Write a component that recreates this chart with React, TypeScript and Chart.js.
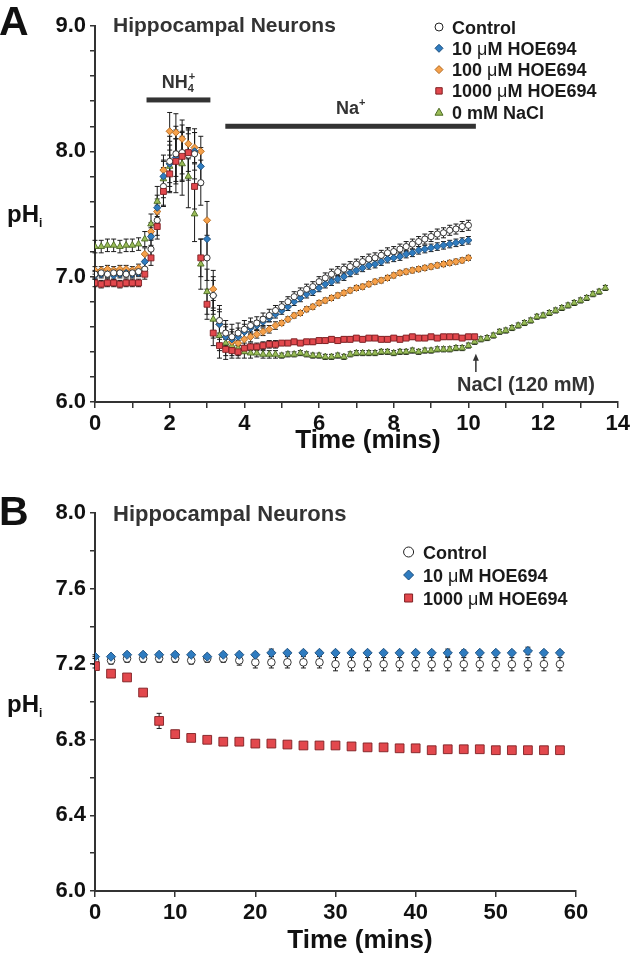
import React, { useEffect, useRef } from 'react';
import { Chart, registerables } from 'chart.js';

Chart.register(...registerables);

const FONT = '"Liberation Sans", Arial, Helvetica, sans-serif';
const bold = (px: number) => `bold ${px}px ${FONT}`;
const normal = (px: number) => `${px}px ${FONT}`;

// ---------------- Panel A data (time in seconds, pH values) ----------------
const A_TIME_SEC = [
  0, 10, 20, 30, 40, 50, 60, 70, 80, 90,
  100, 110, 120, 130, 140, 150, 160, 170, 180, 190,
  200, 210, 220, 230, 240, 250, 260, 270, 280, 290,
  300, 310, 320, 330, 340, 350, 360, 370, 380, 390,
  400, 410, 420, 430, 440, 450, 460, 470, 480, 490,
  500, 510, 520, 530, 540, 550, 560, 570, 580, 590,
  600, 610, 620, 630, 640, 650, 660, 670, 680, 690,
  700, 710, 720, 730, 740, 750, 760, 770, 780, 790,
  800, 810, 820,
];

const A_CONTROL = [
  7.02, 7.03, 7.02, 7.03, 7.03, 7.02, 7.03, 7.04, 7.06, 7.22,
  7.45, 7.72, 7.92, 7.98, 7.99, 7.97, 7.98, 7.75, 7.15, 6.85,
  6.65, 6.55, 6.52, 6.55, 6.58, 6.61, 6.63, 6.66, 6.69, 6.73,
  6.76, 6.80, 6.84, 6.87, 6.90, 6.92, 6.96, 6.99, 7.02, 7.04,
  7.06, 7.08, 7.10, 7.12, 7.14, 7.15, 7.17, 7.19, 7.20, 7.22,
  7.24, 7.26, 7.28, 7.30, 7.32, 7.34, 7.35, 7.37, 7.38, 7.40,
  7.41,
];
const A_CONTROL_ERR = [
  0.03, 0.03, 0.03, 0.03, 0.03, 0.03, 0.03, 0.03, 0.05, 0.08,
  0.12, 0.15, 0.20, 0.22, 0.22, 0.20, 0.20, 0.18, 0.18, 0.15,
  0.12, 0.10, 0.10, 0.08, 0.07, 0.06, 0.05, 0.05, 0.05, 0.04,
  0.04, 0.04, 0.04, 0.04, 0.04, 0.04, 0.04, 0.04, 0.04, 0.04,
  0.04, 0.04, 0.04, 0.04, 0.04, 0.04, 0.04, 0.04, 0.04, 0.04,
  0.04, 0.04, 0.04, 0.04, 0.04, 0.04, 0.04, 0.04, 0.04, 0.04,
  0.04,
];

const A_HOE10 = [
  7.01, 7.02, 7.02, 7.01, 7.02, 7.03, 7.02, 7.03, 7.12, 7.32,
  7.55, 7.80, 7.90, 7.95, 7.97, 7.99, 8.00, 7.88, 7.30, 6.85,
  6.62, 6.52, 6.50, 6.52, 6.56, 6.59, 6.61, 6.64, 6.67, 6.70,
  6.73, 6.76, 6.80, 6.83, 6.86, 6.88, 6.91, 6.94, 6.96, 6.98,
  7.00, 7.03, 7.05, 7.07, 7.09, 7.10, 7.12, 7.14, 7.15, 7.16,
  7.18, 7.19, 7.21, 7.22, 7.23, 7.24, 7.25, 7.26, 7.27, 7.28,
  7.29,
];
const A_HOE10_ERR = [
  0.03, 0.03, 0.03, 0.03, 0.03, 0.03, 0.03, 0.03, 0.05, 0.07,
  0.10, 0.12, 0.15, 0.15, 0.15, 0.15, 0.15, 0.15, 0.15, 0.12,
  0.10, 0.08, 0.08, 0.07, 0.06, 0.05, 0.04, 0.04, 0.03, 0.03,
  0.03, 0.03, 0.03, 0.03, 0.03, 0.03, 0.03, 0.03, 0.03, 0.03,
  0.03, 0.03, 0.03, 0.03, 0.03, 0.03, 0.03, 0.03, 0.03, 0.03,
  0.03, 0.03, 0.03, 0.03, 0.03, 0.03, 0.03, 0.03, 0.03, 0.03,
  0.03,
];

const A_HOE100 = [
  7.05, 7.05, 7.06, 7.05, 7.06, 7.06, 7.05, 7.07, 7.18, 7.36,
  7.52, 7.85, 8.16, 8.15, 8.10, 8.06, 8.03, 8.00, 7.45, 6.90,
  6.62, 6.52, 6.48, 6.47, 6.50, 6.52, 6.54, 6.56, 6.58, 6.61,
  6.63, 6.66, 6.69, 6.71, 6.74, 6.76, 6.79, 6.81, 6.83, 6.85,
  6.87, 6.89, 6.91, 6.92, 6.94, 6.96, 6.97, 6.99, 7.01, 7.03,
  7.04, 7.05, 7.06, 7.07, 7.08, 7.09, 7.10, 7.11, 7.12, 7.13,
  7.15,
];
const A_HOE100_ERR = [
  0.03, 0.03, 0.03, 0.03, 0.03, 0.03, 0.03, 0.03, 0.05, 0.07,
  0.10, 0.12, 0.15, 0.15, 0.15, 0.12, 0.12, 0.12, 0.15, 0.15,
  0.12, 0.10, 0.08, 0.06, 0.05, 0.04, 0.03, 0.03, 0.03, 0.03,
  0.02, 0.02, 0.02, 0.02, 0.02, 0.02, 0.02, 0.02, 0.02, 0.02,
  0.02, 0.02, 0.02, 0.02, 0.02, 0.02, 0.02, 0.02, 0.02, 0.02,
  0.02, 0.02, 0.02, 0.02, 0.02, 0.02, 0.02, 0.02, 0.02, 0.02,
  0.02,
];

const A_HOE1000 = [
  6.95, 6.94, 6.95, 6.95, 6.94, 6.95, 6.95, 6.95, 7.02, 7.15,
  7.40, 7.68, 7.82, 7.92, 7.96, 7.99, 7.72, 7.15, 6.78, 6.55,
  6.45, 6.42, 6.41, 6.40, 6.43, 6.44, 6.44, 6.45, 6.46, 6.46,
  6.47, 6.47, 6.48, 6.47, 6.48, 6.48, 6.49, 6.49, 6.50, 6.49,
  6.50, 6.50, 6.51, 6.50, 6.51, 6.51, 6.50, 6.50, 6.51, 6.50,
  6.51, 6.52, 6.51, 6.51, 6.52, 6.51, 6.52, 6.52, 6.52, 6.51,
  6.52, 6.52,
];
const A_HOE1000_ERR = [
  0.03, 0.03, 0.03, 0.03, 0.03, 0.03, 0.03, 0.03, 0.04, 0.06,
  0.10, 0.12, 0.15, 0.18, 0.20, 0.20, 0.18, 0.15, 0.12, 0.10,
  0.10, 0.08, 0.06, 0.05, 0.04, 0.03, 0.03, 0.03, 0.03, 0.03,
  0.02, 0.02, 0.02, 0.02, 0.02, 0.02, 0.02, 0.02, 0.02, 0.02,
  0.02, 0.02, 0.02, 0.02, 0.02, 0.02, 0.02, 0.02, 0.02, 0.02,
  0.02, 0.02, 0.02, 0.02, 0.02, 0.02, 0.02, 0.02, 0.02, 0.02,
  0.02, 0.02,
];

const A_NACL0 = [
  7.24, 7.24, 7.25, 7.25, 7.24, 7.25, 7.25, 7.26, 7.30, 7.42,
  7.60, 7.78, 7.88, 7.92, 7.90, 7.80, 7.50, 7.10, 6.88, 6.66,
  6.53, 6.47, 6.45, 6.43, 6.40, 6.39, 6.39, 6.38, 6.38, 6.38,
  6.37, 6.38, 6.38, 6.39, 6.38, 6.37, 6.37, 6.36, 6.36, 6.37,
  6.36, 6.38, 6.39, 6.39, 6.39, 6.39, 6.40, 6.40, 6.39, 6.40,
  6.40, 6.41, 6.40, 6.41, 6.41, 6.42, 6.42, 6.42, 6.43, 6.43,
  6.45, 6.48, 6.50, 6.51, 6.53, 6.56, 6.57, 6.59, 6.61, 6.63,
  6.65, 6.68, 6.69, 6.71, 6.73, 6.75, 6.77, 6.79, 6.81, 6.83,
  6.86, 6.88, 6.91,
];
const A_NACL0_ERR = [
  0.05, 0.05, 0.05, 0.05, 0.05, 0.05, 0.05, 0.05, 0.06, 0.08,
  0.12, 0.15, 0.20, 0.25, 0.25, 0.25, 0.22, 0.20, 0.18, 0.15,
  0.12, 0.10, 0.08, 0.06, 0.05, 0.04, 0.03, 0.03, 0.03, 0.03,
  0.02, 0.02, 0.02, 0.02, 0.02, 0.02, 0.02, 0.02, 0.02, 0.02,
  0.02, 0.02, 0.02, 0.02, 0.02, 0.02, 0.02, 0.02, 0.02, 0.02,
  0.02, 0.02, 0.02, 0.02, 0.02, 0.02, 0.02, 0.02, 0.02, 0.02,
  0.02, 0.02, 0.02, 0.02, 0.02, 0.02, 0.02, 0.02, 0.02, 0.02,
  0.02, 0.02, 0.02, 0.02, 0.02, 0.02, 0.02, 0.02, 0.02, 0.02,
  0.02, 0.02, 0.02,
];

// Panel A annotations (minutes / pH)
const A_NH4_PERIOD = [1.38, 3.09];
const A_NH4_LEVEL = 8.41;
const A_NA_PERIOD = [3.49, 10.2];
const A_NA_LEVEL = 8.2;
const A_NACL_TIME = 10.2;
const A_NACL_ARROW = [6.24, 6.385];

// ---------------- Panel B data (time in minutes, pH values) ----------------
const B_TIME_MIN = [
  0, 2, 4, 6, 8, 10, 12, 14, 16, 18,
  20, 22, 24, 26, 28, 30, 32, 34, 36, 38,
  40, 42, 44, 46, 48, 50, 52, 54, 56, 58,
];
const B_CONTROL = [
  7.22, 7.22, 7.23, 7.23, 7.23, 7.23, 7.22, 7.23, 7.23, 7.22,
  7.21, 7.21, 7.21, 7.21, 7.21, 7.20, 7.20, 7.20, 7.20, 7.20,
  7.20, 7.20, 7.20, 7.20, 7.20, 7.20, 7.20, 7.20, 7.20, 7.20,
];
const B_CONTROL_ERR = [
  0.02, 0.02, 0.02, 0.02, 0.02, 0.02, 0.02, 0.02, 0.02, 0.025,
  0.03, 0.03, 0.03, 0.03, 0.03, 0.035, 0.035, 0.035, 0.035, 0.035,
  0.035, 0.035, 0.035, 0.035, 0.035, 0.035, 0.035, 0.035, 0.035, 0.035,
];
const B_HOE10 = [
  7.24, 7.24, 7.25, 7.25, 7.25, 7.25, 7.25, 7.24, 7.25, 7.25,
  7.25, 7.26, 7.26, 7.26, 7.26, 7.26, 7.26, 7.26, 7.26, 7.26,
  7.26, 7.26, 7.26, 7.26, 7.26, 7.26, 7.26, 7.27, 7.26, 7.26,
];
const B_HOE10_ERR = [
  0.01, 0.01, 0.01, 0.01, 0.01, 0.01, 0.01, 0.01, 0.01, 0.01,
  0.01, 0.02, 0.01, 0.01, 0.01, 0.01, 0.01, 0.01, 0.01, 0.01,
  0.01, 0.01, 0.02, 0.015, 0.01, 0.01, 0.01, 0.02, 0.01, 0.01,
];
const B_HOE1000 = [
  7.19, 7.15, 7.13, 7.05, 6.90, 6.83, 6.81, 6.80, 6.79, 6.79,
  6.78, 6.78, 6.775, 6.77, 6.77, 6.77, 6.765, 6.76, 6.76, 6.755,
  6.755, 6.745, 6.75, 6.75, 6.75, 6.745, 6.745, 6.745, 6.745, 6.745,
];
const B_HOE1000_ERR = [
  0.01, 0.01, 0.01, 0.015, 0.04, 0.02, 0.015, 0.01, 0.01, 0.01,
  0.01, 0.01, 0.01, 0.01, 0.01, 0.01, 0.01, 0.01, 0.01, 0.01,
  0.01, 0.01, 0.01, 0.01, 0.01, 0.01, 0.01, 0.01, 0.01, 0.01,
];

// ---------------- Styles ----------------
type Shape = 'circle' | 'diamond' | 'square' | 'triangle';
type SeriesStyle = { shape: Shape; fill: string; stroke: string };
const S_CONTROL: SeriesStyle = { shape: 'circle', fill: '#ffffff', stroke: '#222222' };
const S_HOE10: SeriesStyle = { shape: 'diamond', fill: '#2f7cc0', stroke: '#1b4d7c' };
const S_HOE100: SeriesStyle = { shape: 'diamond', fill: '#f5a04a', stroke: '#b2691f' };
const S_HOE1000: SeriesStyle = { shape: 'square', fill: '#e2484d', stroke: '#7e1f22' };
const S_NACL0: SeriesStyle = { shape: 'triangle', fill: '#9bbd58', stroke: '#4b6a22' };

const POINT_STYLE: Record<Shape, string> = {
  circle: 'circle',
  diamond: 'rectRot',
  square: 'rect',
  triangle: 'triangle',
};

type Seg = { t: string; f: string; dy?: number; dx?: number; noAdvance?: boolean };

function segWidth(ctx: CanvasRenderingContext2D, segs: Seg[]) {
  let w = 0;
  for (const s of segs) {
    ctx.font = s.f;
    if (!s.noAdvance) w += ctx.measureText(s.t).width + (s.dx || 0);
  }
  return w;
}

function drawSegs(ctx: CanvasRenderingContext2D, segs: Seg[], x: number, y: number, align: 'left' | 'center', color: string) {
  ctx.save();
  ctx.fillStyle = color;
  ctx.textAlign = 'left';
  ctx.textBaseline = 'alphabetic';
  let cx = align === 'center' ? x - segWidth(ctx, segs) / 2 : x;
  for (const s of segs) {
    ctx.font = s.f;
    ctx.fillText(s.t, cx + (s.dx || 0), y + (s.dy || 0));
    if (!s.noAdvance) cx += ctx.measureText(s.t).width + (s.dx || 0);
  }
  ctx.restore();
}

function drawMarker(ctx: CanvasRenderingContext2D, style: SeriesStyle, x: number, y: number, r: number) {
  ctx.save();
  ctx.fillStyle = style.fill;
  ctx.strokeStyle = style.stroke;
  ctx.lineWidth = 1;
  ctx.beginPath();
  if (style.shape === 'circle') {
    ctx.arc(x, y, r, 0, Math.PI * 2);
  } else if (style.shape === 'diamond') {
    ctx.moveTo(x, y - r);
    ctx.lineTo(x + r, y);
    ctx.lineTo(x, y + r);
    ctx.lineTo(x - r, y);
    ctx.closePath();
  } else if (style.shape === 'square') {
    const s = r * 0.8;
    ctx.rect(x - s, y - s, 2 * s, 2 * s);
  } else {
    ctx.moveTo(x, y - r);
    ctx.lineTo(x + r, y + r * 0.75);
    ctx.lineTo(x - r, y + r * 0.75);
    ctx.closePath();
  }
  ctx.fill();
  ctx.stroke();
  ctx.restore();
}

function muLabel(prefix: string, rest: string, px: number): Seg[] {
  return [
    { t: prefix, f: bold(px) },
    { t: 'μ', f: normal(px) },
    { t: rest, f: bold(px) },
  ];
}

const errorBarPlugin = {
  id: 'errorBars',
  beforeDatasetsDraw(chart: any) {
    const ctx = chart.ctx;
    const yScale = chart.scales.y;
    ctx.save();
    ctx.strokeStyle = '#1a1a1a';
    chart.data.datasets.forEach((d: any, di: number) => {
      if (!d.errors) return;
      const meta = chart.getDatasetMeta(di);
      const cap = d.errorCap || 2.5;
      ctx.lineWidth = d.errorWidth || 1;
      meta.data.forEach((el: any, i: number) => {
        const e = d.errors[i];
        if (!e) return;
        const v = d.data[i].y;
        const x = el.x;
        const y1 = yScale.getPixelForValue(v + e);
        const y2 = yScale.getPixelForValue(v - e);
        ctx.beginPath();
        ctx.moveTo(x, y1);
        ctx.lineTo(x, y2);
        ctx.moveTo(x - cap, y1);
        ctx.lineTo(x + cap, y1);
        ctx.moveTo(x - cap, y2);
        ctx.lineTo(x + cap, y2);
        ctx.stroke();
      });
    });
    ctx.restore();
  },
};

function makeDataset(label: string, times: number[], values: number[], errors: number[], style: SeriesStyle, radius: number, cap: number) {
  return {
    label,
    data: values.map((v, i) => ({ x: times[i], y: v })),
    errors,
    errorCap: cap,
    showLine: false,
    pointStyle: POINT_STYLE[style.shape],
    pointRadius: radius,
    pointHoverRadius: radius,
    pointBackgroundColor: style.fill,
    pointBorderColor: style.stroke,
    pointBorderWidth: 0.9,
  };
}

function axisOptions(min: number, max: number, step: number, labelFn: (v: number) => string, fixedSize: number, horizontal: boolean) {
  return {
    type: 'linear',
    min,
    max,
    afterFit: (s: any) => {
      if (horizontal) s.height = fixedSize;
      else s.width = fixedSize;
    },
    ticks: {
      stepSize: step,
      autoSkip: false,
      maxRotation: 0,
      minRotation: 0,
      padding: horizontal ? 3 : 4,
      color: '#111',
      font: { family: FONT, size: 22, weight: 'bold' },
      callback: (v: any) => labelFn(Number(v)),
    },
    grid: {
      display: true,
      drawOnChartArea: false,
      drawTicks: true,
      tickLength: horizontal ? 6 : 5,
      color: '#333',
      lineWidth: 1.5,
    },
    border: { display: true, color: '#333', width: 2 },
    title: { display: false },
  };
}

const A_MIN = (s: number) => s / 60;

export default function App() {
  const refA = useRef<HTMLCanvasElement | null>(null);
  const refB = useRef<HTMLCanvasElement | null>(null);

  useEffect(() => {
    if (!refA.current || !refB.current) return;
    const tA = A_TIME_SEC.map(A_MIN);

    const legendA: { style: SeriesStyle; segs: Seg[] }[] = [
      { style: S_CONTROL, segs: [{ t: 'Control', f: bold(18) }] },
      { style: S_HOE10, segs: muLabel('10 ', 'M HOE694', 18) },
      { style: S_HOE100, segs: muLabel('100 ', 'M HOE694', 18) },
      { style: S_HOE1000, segs: muLabel('1000 ', 'M HOE694', 18) },
      { style: S_NACL0, segs: [{ t: '0 mM NaCl', f: bold(18) }] },
    ];

    const decorA = {
      id: 'decorA',
      afterDraw(chart: any) {
        const ctx: CanvasRenderingContext2D = chart.ctx;
        const x = chart.scales.x;
        const y = chart.scales.y;
        ctx.save();
        ctx.textAlign = 'left';
        ctx.textBaseline = 'alphabetic';
        ctx.fillStyle = '#111';
        ctx.font = bold(41);
        ctx.fillText('A', -1, 35);
        ctx.fillStyle = '#333';
        ctx.font = bold(21);
        ctx.fillText('Hippocampal Neurons', 113, 32);
        drawSegs(ctx, [{ t: 'pH', f: bold(24) }, { t: 'i', f: bold(12), dy: 5 }], 7, 222, 'left', '#111');

        legendA.forEach((item, i) => {
          const cy = 27 + i * 21.3;
          drawMarker(ctx, item.style, 439, cy, 4);
          drawSegs(ctx, item.segs, 452, cy + 6.5, 'left', '#1a1a1a');
        });

        ctx.fillStyle = '#333';
        const nhY = y.getPixelForValue(A_NH4_LEVEL);
        const nhX0 = x.getPixelForValue(A_NH4_PERIOD[0]);
        const nhX1 = x.getPixelForValue(A_NH4_PERIOD[1]);
        ctx.fillRect(nhX0, nhY - 2.5, nhX1 - nhX0, 5);
        drawSegs(ctx, [
          { t: 'NH', f: bold(18) },
          { t: '4', f: bold(11), dy: 4, noAdvance: true },
          { t: '+', f: bold(11), dy: -8, dx: 1 },
        ], (nhX0 + nhX1) / 2, nhY - 12, 'center', '#333');

        const naY = y.getPixelForValue(A_NA_LEVEL);
        const naX0 = x.getPixelForValue(A_NA_PERIOD[0]);
        const naX1 = x.getPixelForValue(A_NA_PERIOD[1]);
        ctx.fillStyle = '#333';
        ctx.fillRect(naX0, naY - 2.5, naX1 - naX0, 5);
        drawSegs(ctx, [
          { t: 'Na', f: bold(18) },
          { t: '+', f: bold(11), dy: -8 },
        ], (naX0 + naX1) / 2, naY - 12, 'center', '#333');

        // NaCl arrow
        const ax = x.getPixelForValue(A_NACL_TIME);
        const ay0 = y.getPixelForValue(A_NACL_ARROW[0]);
        const ay1 = y.getPixelForValue(A_NACL_ARROW[1]);
        ctx.strokeStyle = '#333';
        ctx.lineWidth = 1.5;
        ctx.beginPath();
        ctx.moveTo(ax, ay0);
        ctx.lineTo(ax, ay1 + 4);
        ctx.stroke();
        ctx.fillStyle = '#333';
        ctx.beginPath();
        ctx.moveTo(ax, ay1);
        ctx.lineTo(ax + 3, ay1 + 7);
        ctx.lineTo(ax - 3, ay1 + 7);
        ctx.closePath();
        ctx.fill();
        ctx.font = bold(20);
        ctx.fillText('NaCl (120 mM)', 457, 391);

        ctx.fillStyle = '#111';
        ctx.font = bold(26);
        ctx.textAlign = 'center';
        ctx.fillText('Time (mins)', 368, 448);
        ctx.restore();
      },
    };

    const chartA = new Chart(refA.current, {
      type: 'scatter',
      data: {
        datasets: [
          makeDataset('1000 μM HOE694', tA, A_HOE1000, A_HOE1000_ERR, S_HOE1000, 4.2, 2.5),
          makeDataset('Control', tA, A_CONTROL, A_CONTROL_ERR, S_CONTROL, 3.1, 2.5),
          makeDataset('10 μM HOE694', tA, A_HOE10, A_HOE10_ERR, S_HOE10, 3.6, 2.5),
          makeDataset('100 μM HOE694', tA, A_HOE100, A_HOE100_ERR, S_HOE100, 3.6, 2.5),
          makeDataset('0 mM NaCl', tA, A_NACL0, A_NACL0_ERR, S_NACL0, 3.8, 2.5),
        ] as any,
      },
      options: {
        responsive: false,
        animation: false,
        layout: { padding: { left: 0, right: 13, top: 26, bottom: 28 } },
        plugins: { legend: { display: false }, tooltip: { enabled: false } },
        scales: {
          x: axisOptions(0, 14, 1, (v) => (Math.round(v) % 2 === 0 ? String(Math.round(v)) : ''), 40, true),
          y: axisOptions(6, 9, 0.2, (v) => (Math.abs(v - Math.round(v)) < 1e-6 ? v.toFixed(1) : ''), 95, false),
        } as any,
      },
      plugins: [errorBarPlugin, decorA],
    });

    const legendB: { style: SeriesStyle; segs: Seg[] }[] = [
      { style: S_CONTROL, segs: [{ t: 'Control', f: bold(18) }] },
      { style: S_HOE10, segs: muLabel('10 ', 'M HOE694', 18) },
      { style: S_HOE1000, segs: muLabel('1000 ', 'M HOE694', 18) },
    ];

    const decorB = {
      id: 'decorB',
      afterDraw(chart: any) {
        const ctx: CanvasRenderingContext2D = chart.ctx;
        ctx.save();
        ctx.textAlign = 'left';
        ctx.textBaseline = 'alphabetic';
        ctx.fillStyle = '#111';
        ctx.font = bold(41);
        ctx.fillText('B', -1, 55);
        ctx.fillStyle = '#333';
        ctx.font = bold(22);
        ctx.fillText('Hippocampal Neurons', 113, 51);
        drawSegs(ctx, [{ t: 'pH', f: bold(24) }, { t: 'i', f: bold(12), dy: 5 }], 7, 242, 'left', '#111');
        legendB.forEach((item, i) => {
          const cy = 82 + i * 23;
          drawMarker(ctx, item.style, 408.6, cy, 5);
          drawSegs(ctx, item.segs, 423, cy + 6.5, 'left', '#1a1a1a');
        });
        ctx.fillStyle = '#111';
        ctx.font = bold(26);
        ctx.textAlign = 'center';
        ctx.fillText('Time (mins)', 360, 478);
        ctx.restore();
      },
    };

    const chartB = new Chart(refB.current, {
      type: 'scatter',
      data: {
        datasets: [
          makeDataset('1000 μM HOE694', B_TIME_MIN, B_HOE1000, B_HOE1000_ERR, S_HOE1000, 6.2, 2.5),
          makeDataset('10 μM HOE694', B_TIME_MIN, B_HOE10, B_HOE10_ERR, S_HOE10, 4.6, 2.5),
          makeDataset('Control', B_TIME_MIN, B_CONTROL, B_CONTROL_ERR, S_CONTROL, 3.8, 2.5),
        ] as any,
      },
      options: {
        responsive: false,
        animation: false,
        layout: { padding: { left: 0, right: 57, top: 43, bottom: 24 } },
        plugins: { legend: { display: false }, tooltip: { enabled: false } },
        scales: {
          x: axisOptions(0, 60, 10, (v) => String(Math.round(v)), 40, true),
          y: axisOptions(6, 8, 0.2, (v) => {
            const k = (v - 6) / 0.4;
            return Math.abs(k - Math.round(k)) < 1e-6 ? v.toFixed(1) : '';
          }, 95, false),
        } as any,
      },
      plugins: [errorBarPlugin, decorB],
    });

    return () => {
      chartA.destroy();
      chartB.destroy();
    };
  }, []);

  return (
    <div style={{ position: 'absolute', left: 0, top: 0, width: 633, height: 955, background: '#fff' }}>
      <canvas ref={refA} width={633} height={470} style={{ position: 'absolute', left: 0, top: 0 }} />
      <canvas ref={refB} width={633} height={485} style={{ position: 'absolute', left: 0, top: 470 }} />
    </div>
  );
}
